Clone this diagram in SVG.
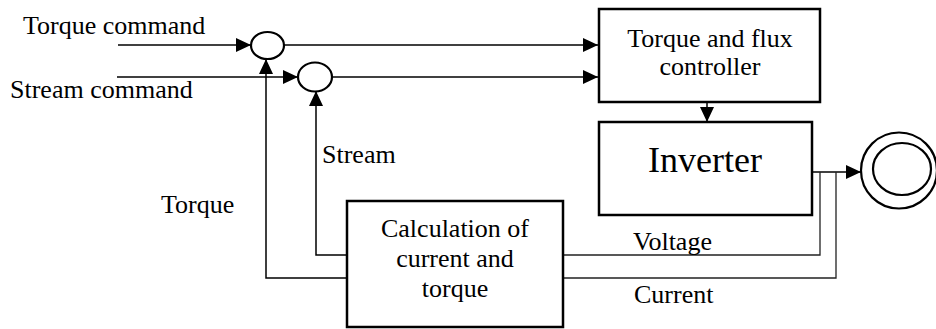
<svg xmlns="http://www.w3.org/2000/svg" width="936" height="329" viewBox="0 0 936 329">
<style>
  .box{fill:#fff;stroke:#000;stroke-width:2.5}
  .sum{fill:#fff;stroke:#000;stroke-width:2.2}
  .ln{fill:none;stroke:#000;stroke-width:1.5}
  .fb{fill:none;stroke:#222;stroke-width:1.3}
  text{font-family:"Liberation Serif","Times New Roman",serif;font-size:26px;fill:#000}
  .c{text-anchor:middle}
</style>
<defs>
  <marker id="ah" markerUnits="userSpaceOnUse" markerWidth="16" markerHeight="16" refX="15" refY="7" orient="auto">
    <path d="M0,0 L15,7 L0,14 Z" fill="#000"/>
  </marker>
</defs>
<g id="connectors">
  <line class="ln" x1="118" y1="45" x2="251" y2="45" marker-end="url(#ah)"/>
  <line class="ln" x1="117" y1="77" x2="298" y2="77" marker-end="url(#ah)"/>
  <line class="ln" x1="284" y1="45" x2="598" y2="45" marker-end="url(#ah)"/>
  <line class="ln" x1="332" y1="77" x2="598" y2="77" marker-end="url(#ah)"/>
  <line class="ln" x1="707" y1="102" x2="707" y2="122" marker-end="url(#ah)"/>
  <line class="ln" x1="812" y1="172" x2="861" y2="172" marker-end="url(#ah)"/>
  <polyline class="fb" points="563,255 820,255 820,172"/>
  <polyline class="fb" points="563,278 836,278 836,172"/>
  <polyline class="ln" points="347,278 266,278 266,59" marker-end="url(#ah)"/>
  <polyline class="ln" points="347,255 316,255 316,91" marker-end="url(#ah)"/>
</g>
<g id="sum1"><ellipse class="sum" cx="267.5" cy="45.5" rx="16.5" ry="13.5"/></g>
<g id="sum2"><ellipse class="sum" cx="315" cy="77" rx="17" ry="14.5"/></g>
<g id="controller">
  <rect class="box" x="599" y="9" width="221" height="93"/>
  <text class="c" x="710" y="47">Torque and flux</text>
  <text class="c" x="710" y="75">controller</text>
</g>
<g id="inverter">
  <rect class="box" x="599" y="122" width="213" height="93"/>
  <text class="c" x="705" y="172" style="font-size:36px">Inverter</text>
</g>
<g id="calc">
  <rect class="box" x="347" y="201" width="216" height="126"/>
  <text class="c" x="455" y="237">Calculation of</text>
  <text class="c" x="455" y="267">current and</text>
  <text class="c" x="455" y="297">torque</text>
</g>
<g id="motor">
  <ellipse class="sum" cx="899" cy="170.5" rx="38" ry="38"/>
  <ellipse class="sum" cx="902" cy="169" rx="29" ry="26"/>
</g>
<g id="labels">
  <text x="23" y="34">Torque command</text>
  <text x="10" y="98">Stream command</text>
  <text x="322" y="163">Stream</text>
  <text x="161" y="213">Torque</text>
  <text x="633" y="250">Voltage</text>
  <text x="634" y="303">Current</text>
</g>
</svg>
